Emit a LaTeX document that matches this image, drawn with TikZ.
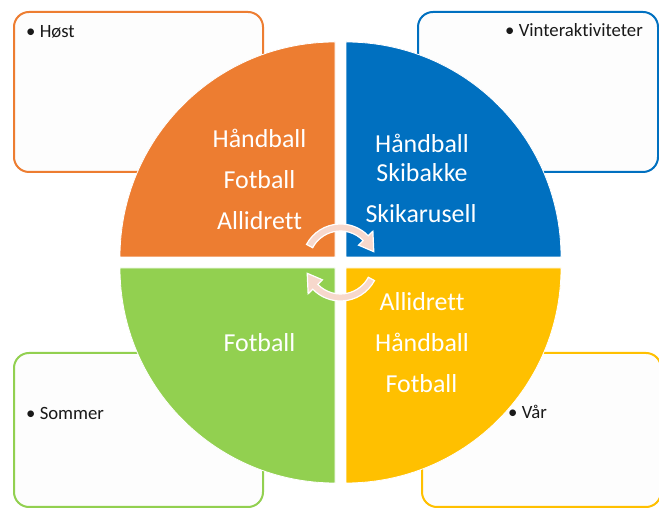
\documentclass[tikz,border=0pt]{standalone}
\usepackage{fontspec}
\setmainfont{Carlito}[Ligatures=CommonOff]
\usetikzlibrary{calc}
\definecolor{corange}{HTML}{ED7D31}
\definecolor{cblue}{HTML}{0070C0}
\definecolor{cgreen}{HTML}{92D050}
\definecolor{cyellow}{HTML}{FFC000}
\definecolor{arrowpink}{HTML}{F7D8CC}
\definecolor{boxfill}{HTML}{FDFDFD}
\begin{document}
\begin{tikzpicture}[x=1bp,y=1bp,
  seasonbox/.style={draw=#1, line width=2bp, fill=boxfill, rounded corners=15bp},
  quad/.style={fill=#1, draw=white, line width=0.8bp},
  qtext/.style={text=white, font=\fontsize{26}{30}\selectfont, anchor=base, inner sep=0pt},
  btext/.style={text=black!90, font=\fontsize{18.8}{22}\selectfont, anchor=base west, inner sep=0pt},
  cyc/.style={fill=arrowpink, draw=white, line width=1.2bp}]
\clip (0,0) rectangle (659,508);
\fill[white] (0,0) rectangle (659,508);
% season boxes
\draw[seasonbox=corange] (14,336) rectangle (263,496);
\draw[seasonbox=cblue] (418,336) rectangle (658,496);
\draw[seasonbox=cgreen] (14,1) rectangle (263,155);
\draw[seasonbox=cyellow] (422,1) rectangle (661,155);
\node[btext] (host) at (26,470) {• Høst};
\node[btext] (vinter) at (505,471) {• Vinteraktiviteter};
\node[btext] (sommer) at (26,88) {• Sommer};
\node[btext] (var) at (508,89) {• Vår};
% quadrants
\path[quad=corange] (335,251) -- (120,251) arc[start angle=180,end angle=90,radius=215] -- cycle;
\path[quad=cblue] (346,251) -- (346,466) arc[start angle=90,end angle=0,radius=215] -- cycle;
\path[quad=cgreen] (335,240) -- (335,25) arc[start angle=270,end angle=180,radius=215] -- cycle;
\path[quad=cyellow] (346,240) -- (561,240) arc[start angle=0,end angle=-90,radius=215] -- cycle;
% quadrant texts
\node[qtext] (o1) at (259.5,360) {Håndball};
\node[qtext] (o2) at (259.5,319) {Fotball};
\node[qtext] (o3) at (259.5,278) {Allidrett};
\node[qtext] (b1) at (422,355) {Håndball};
\node[qtext] (b2) at (422,326) {Skibakke};
\node[qtext] (b3) at (421,285) {Skikarusell};
\node[qtext] (g1) at (259.5,156) {Fotball};
\node[qtext] (y1) at (422,197) {Allidrett};
\node[qtext] (y2) at (422,156) {Håndball};
\node[qtext] (y3) at (421.5,115) {Fotball};
% cycle arrows
\coordinate (c) at (340.5,245.5);
\begin{scope}[shift={(c)}]
\draw[cyc] (152:38.5) arc[start angle=152,end angle=44,radius=38.5]
  -- (44:45) -- (18:35) -- (44:25) -- (44:31.5)
  arc[start angle=44,end angle=152,radius=31.5] -- cycle;
\draw[cyc] (332:38.5) arc[start angle=332,end angle=224,radius=38.5]
  -- (224:45) -- (198:35) -- (224:25) -- (224:31.5)
  arc[start angle=224,end angle=332,radius=31.5] -- cycle;
\end{scope}
\end{tikzpicture}
\end{document}
